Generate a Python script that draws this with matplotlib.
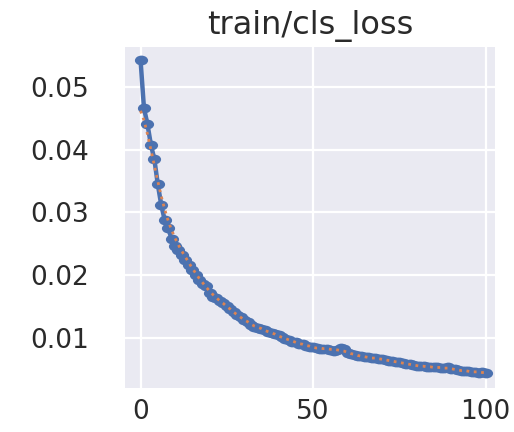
import matplotlib
matplotlib.use("Agg")
import matplotlib.pyplot as plt
import matplotlib.path as mpath
import seaborn as sns

epochs = list(range(101))
cls_loss = [
    0.0543, 0.0466, 0.0441, 0.0408, 0.0385, 0.0345, 0.0312, 0.0288, 0.0275, 0.0258,
    0.0246, 0.0240, 0.0232, 0.0224, 0.0216, 0.0208, 0.0200, 0.0192, 0.0186, 0.0183,
    0.0172, 0.0166, 0.0163, 0.0159, 0.0156, 0.0151, 0.0146, 0.0141, 0.0137, 0.0133,
    0.0129, 0.0125, 0.0121, 0.0118, 0.0116, 0.0115, 0.0112, 0.0110, 0.0108, 0.0106,
    0.0104, 0.0101, 0.0098, 0.0096, 0.0094, 0.0093, 0.0091, 0.0090, 0.0088, 0.0086,
    0.0085, 0.0084, 0.0083, 0.0083, 0.0082, 0.0081, 0.0080, 0.0081, 0.0084, 0.0083,
    0.0076, 0.0074, 0.0073, 0.0072, 0.0071, 0.0070, 0.0069, 0.0068, 0.0068, 0.0067,
    0.0066, 0.0065, 0.0064, 0.0063, 0.0062, 0.0061, 0.0060, 0.0059, 0.0058, 0.0057,
    0.0056, 0.0055, 0.0055, 0.0054, 0.0054, 0.0053, 0.0053, 0.0052, 0.0052, 0.0053,
    0.0051, 0.0050, 0.0049, 0.0048, 0.0047, 0.0047, 0.0046, 0.0046, 0.0045, 0.0046,
    0.0045,
]
smooth = [
    0.0462, 0.0447, 0.0425, 0.0400, 0.0375, 0.0350, 0.0326, 0.0305, 0.0287, 0.0272,
    0.0259, 0.0248, 0.0238, 0.0229, 0.0220, 0.0211, 0.0203, 0.0195, 0.0188, 0.0181,
    0.0175, 0.0169, 0.0164, 0.0159, 0.0155, 0.0150, 0.0146, 0.0141, 0.0137, 0.0133,
    0.0129, 0.0126, 0.0122, 0.0119, 0.0117, 0.0115, 0.0112, 0.0110, 0.0108, 0.0106,
    0.0103, 0.0101, 0.0099, 0.0097, 0.0095, 0.0093, 0.0091, 0.0090, 0.0088, 0.0087,
    0.0085, 0.0084, 0.0084, 0.0083, 0.0083, 0.0082, 0.0082, 0.0081, 0.0080, 0.0079,
    0.0077, 0.0075, 0.0074, 0.0072, 0.0071, 0.0070, 0.0069, 0.0068, 0.0068, 0.0067,
    0.0066, 0.0065, 0.0064, 0.0063, 0.0062, 0.0061, 0.0060, 0.0059, 0.0058, 0.0057,
    0.0056, 0.0055, 0.0055, 0.0054, 0.0054, 0.0053, 0.0053, 0.0053, 0.0052, 0.0052,
    0.0051, 0.0050, 0.0049, 0.0048, 0.0048, 0.0047, 0.0046, 0.0046, 0.0046, 0.0045,
    0.0045,
]
title = "train/cls_loss"
xticks = [0, 50, 100]
yticks = [0.01, 0.02, 0.03, 0.04, 0.05]
ytick_labels = ["0.01", "0.02", "0.03", "0.04", "0.05"]

sns.set_theme(style="darkgrid")
plt.rcParams['font.family'] = ['DejaVu Sans']

# horizontally elongated dot marker (the reference image is stretched sideways)
circ = mpath.Path.unit_circle()
ellipse = mpath.Path(circ.vertices * [1.35, 1.0], circ.codes)

fig = plt.figure(figsize=(5.14, 4.32), dpi=100)
ax = fig.add_axes([125 / 514, 1 - 388 / 432, 370 / 514, 341 / 432])
ax.set_facecolor("#EAEAF2")

ax.plot(epochs, cls_loss, color="#4C72B0", linewidth=3.2, marker=ellipse,
        markersize=9.5, markeredgewidth=0)
ax.plot(epochs, smooth, ":", color="#DD8452", linewidth=2)

ax.set_xlim(-4.5, 102.7)
ax.set_ylim(0.00203, 0.05637)
ax.set_xticks(xticks)
ax.set_yticks(yticks)
ax.set_yticklabels(ytick_labels)
ax.grid(True, color="white", linewidth=1.6)
for s in ax.spines.values():
    s.set_visible(False)
ax.tick_params(axis="both", length=0, labelsize=19, colors="#2a2a2a")
ax.tick_params(axis="y", pad=26)
ax.tick_params(axis="x", pad=8)
ax.set_title(title, fontsize=23, color="#2a2a2a", pad=9)

fig.savefig("out.png", dpi=100)
